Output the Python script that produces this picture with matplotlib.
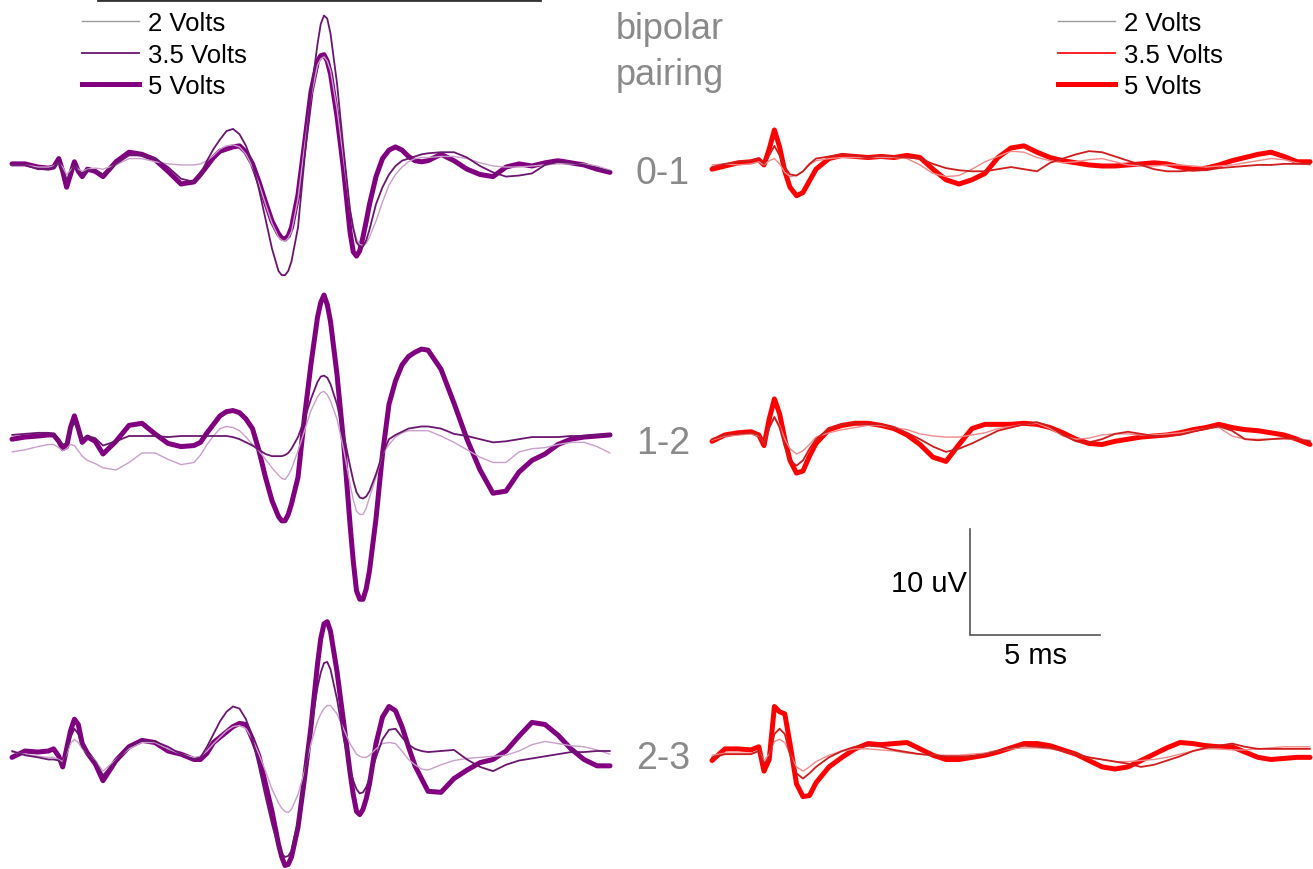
import numpy as np
import matplotlib
matplotlib.use("Agg")
import matplotlib.pyplot as plt
from matplotlib.lines import Line2D

plt.rcParams['font.family'] = ['Liberation Sans', 'DejaVu Sans']

# ---------------------------------------------------------------- sample times (ms)
t_left = np.array([0, 0.5, 1.0, 1.4, 1.6, 1.8, 1.95, 2.1, 2.25, 2.4, 2.55, 2.7, 2.9, 3.2, 3.5,
                   4.0, 4.5, 5.0, 5.5, 6.0, 6.5, 7.0, 7.25, 7.5, 7.75, 8.0, 8.25, 8.5, 8.75,
                   9.0, 9.25, 9.5, 9.75,
                   10.0, 10.25, 10.375, 10.5, 10.625, 10.75, 11.0, 11.25, 11.5, 11.75, 11.875,
                   12.0, 12.125, 12.25, 12.5, 12.75, 13.0, 13.125, 13.25, 13.375, 13.5, 13.625,
                   13.75,
                   14.0, 14.25, 14.5, 14.75, 15.0, 15.25, 15.5, 15.75, 16.0, 16.5, 17.0, 17.5,
                   18.0, 18.5, 19.0, 19.5, 20.0, 20.5, 21.0, 21.5, 22.0, 22.5, 23.0])
t_right = np.array([0, 0.5, 1.0, 1.5, 1.8, 2.0, 2.2, 2.4, 2.6, 2.8, 3.0, 3.25, 3.5, 3.75, 4.0,
                    4.5, 5.0, 5.5, 6.0, 6.5, 7.0, 7.5, 8.0, 8.5, 9.0, 9.5, 10.0, 10.5, 11.0,
                    11.5, 12.0, 12.5, 13.0, 13.5, 14.0, 14.5, 15.0, 15.5, 16.0, 16.5, 17.0,
                    17.5, 18.0, 18.5, 19.0, 19.5, 20.0, 20.5, 21.0, 21.5, 22.0, 22.5, 23.0])

# ---------------------------------------------------------------- left column (uV)
L01_2V = [0.1, 0.1, -0.1, -0.1, 0.0, 0.3, -0.1, -0.8, -0.4, 0.0, -0.3, -0.5, -0.3, -0.2, -0.3,
          0.1, 0.7, 0.7, 0.4, 0.2, 0.1, 0.1, 0.2, 0.5, 1.0, 1.6, 1.9, 2.0, 1.8, 1.1, -0.1, -1.7,
          -3.6,
          -5.4, -6.7, -7.0, -7.1, -6.8, -6.2, -3.1, 1.8, 6.5, 9.5, 10.1, 10.3, 9.9, 9.0, 5.4,
          0.7, -4.1, -5.7, -6.9, -7.4, -7.5, -7.3, -6.7,
          -5.2, -3.4, -1.8, -0.8, -0.1, 0.4, 0.7, 0.8, 0.8, 0.9, 0.9, 0.7, 0.3, 0.0,
          -0.1, -0.1, 0.0, 0.1, 0.2, 0.2, 0.2, 0.0, -0.4]
L01_35V = [0.1, 0.1, -0.3, -0.3, -0.1, 0.4, -0.5, -1.4, -0.7, 0.1, -0.5, -0.8, -0.4, -0.4, -0.8,
           0.2, 1.0, 1.0, 0.7, -0.1, -1.2, -1.5, -0.8, 0.5, 1.6, 2.5, 3.3, 3.5, 3.0, 1.9, 0.2,
           -2.2, -5.0,
           -7.8, -9.9, -10.3, -10.3, -9.9, -9.0, -5.8, 0.7, 6.8, 11.5, 13.4, 14.2, 13.9, 12.5,
           7.8, 1.6, -4.1, -5.9, -7.2, -7.6, -7.6, -7.0, -6.0,
           -3.6, -2.0, -0.8, 0.0, 0.5, 0.7, 0.9, 1.1, 1.2, 1.3, 1.3, 0.8, 0.0,
           -0.6, -1.0, -0.9, -0.7, 0.1, 0.4, 0.3, 0.1, -0.2, -0.5]
L01_5V = [0.2, 0.2, -0.1, -0.2, -0.1, 0.7, -0.5, -2.0, -0.8, 0.4, -0.5, -1.0, -0.3, -0.5, -1.0,
          0.4, 1.3, 1.1, 0.6, -0.5, -1.7, -1.5, -0.8, 0.0, 0.8, 1.4, 1.6, 1.8, 1.9, 1.3, 0.2,
          -1.5, -3.4,
          -5.2, -6.4, -6.8, -6.9, -6.6, -5.8, -2.7, 2.1, 7.0, 9.9, 10.4, 10.5, 9.9, 8.7, 4.7,
          -0.3, -6.2, -8.1, -8.5, -8.0, -6.7, -5.2, -3.6,
          -1.0, 0.7, 1.5, 1.8, 1.5, 0.9, 0.5, 0.4, 0.5, 1.1, 0.5, -0.3, -0.8,
          -1.0, -0.1, 0.2, 0.0, 0.3, 0.5, 0.3, 0.1, -0.3, -0.6]

L12_2V = [-1.5, -1.3, -1.0, -0.8, -0.8, -1.1, -1.4, -1.2, -0.8, -0.9, -1.4, -1.9, -2.3, -2.6,
          -3.0, -3.2, -2.5, -1.6, -1.6, -2.2, -2.7, -2.5, -1.8, -0.8, 0.0, 0.7, 0.9, 0.8, 0.5,
          -0.1, -0.8, -1.4, -2.2,
          -3.0, -3.7, -4.0, -4.1, -3.7, -3.1, -1.4, 0.5, 2.4, 3.7, 4.1, 4.2, 3.9, 3.3, 1.6,
          -1.2, -4.5, -6.0, -7.1, -7.4, -7.4, -6.8, -5.8,
          -3.9, -1.7, -0.8, -0.1, 0.3, 0.5, 0.5, 0.5, 0.5, 0.0,
          -0.6, -1.3, -2.0, -2.5, -2.5, -1.5, -1.2, -1.1, -0.8, -0.6, -0.6, -1.0, -1.6]
L12_35V = [0.1, 0.2, 0.3, 0.3, 0.2, -0.3, -0.8, -0.7, 0.7, 1.3, 0.5, -0.3, 0.0, -0.2, -0.9,
           -0.5, 0.0, 0.0, 0.0, -0.1, 0.0, 0.0, 0.0, 0.0, 0.0, 0.0, 0.0, -0.1, -0.3, -0.6, -0.9,
           -1.3, -1.7,
           -1.9, -1.9, -1.9, -1.8, -1.6, -1.2, -0.1, 1.6, 3.5, 5.1, 5.6, 5.7, 5.5, 4.9, 3.0,
           0.2, -2.8, -4.2, -5.3, -5.8, -5.9, -5.7, -5.2,
           -3.6, -1.7, -0.3, 0.1, 0.4, 0.7, 0.8, 0.9, 0.9, 0.7, 0.2, 0.0,
           -0.3, -0.6, -0.5, -0.3, -0.1, -0.1, -0.1, 0.0, 0.0, 0.1, 0.1]
L12_5V = [-0.3, -0.1, 0.0, 0.1, 0.1, -0.5, -1.2, -1.0, 0.8, 1.9, 0.7, -0.6, -0.1, -0.5, -1.7,
          -0.5, 1.0, 1.2, 0.2, -0.7, -1.0, -0.9, -0.6, 0.3, 1.1, 1.9, 2.3, 2.4, 2.2, 1.6, 0.7,
          -1.4, -3.9,
          -6.1, -7.6, -8.0, -8.0, -7.4, -6.4, -3.9, 1.8, 6.8, 11.2, 12.6, 13.3, 12.4, 10.8,
          5.8, -0.5, -8.3, -11.8, -14.6, -15.4, -15.4, -14.4, -12.7,
          -7.8, -1.7, 3.0, 5.2, 6.7, 7.5, 7.9, 8.2, 8.1, 6.3, 3.1, -0.3,
          -3.2, -5.4, -5.2, -3.4, -2.3, -1.7, -0.8, -0.3, -0.1, 0.0, 0.1]

L23_2V = [-0.1, -0.3, -0.5, -0.6, -0.6, -0.8, -1.0, -0.3, 0.7, 1.1, 0.8, 0.2, -0.3, -0.9, -1.9,
          -0.8, 0.2, 0.8, 0.8, 0.2, -0.3, -0.6, -0.5, 0.0, 0.7, 1.3, 1.9, 2.3, 2.4, 2.1, 1.1,
          -0.3, -1.9,
          -3.6, -4.9, -5.4, -5.7, -5.8, -5.5, -4.1, -1.9, 0.7, 2.8, 3.5, 4.0, 4.3, 4.3, 3.5,
          2.1, 0.7, 0.2, -0.3, -0.5, -0.6, -0.6, -0.4,
          0.2, 0.7, 0.8, 0.7, 0.0, -0.8, -1.3, -1.7, -1.8, -1.3, -0.9, -0.7,
          -0.6, -0.5, -0.4, 0.0, 0.6, 0.9, 0.7, 0.5, 0.4, 0.1, -0.3]
L23_35V = [0.0, -0.4, -0.6, -0.8, -0.8, -0.9, -1.3, 0.0, 1.3, 2.1, 1.6, 0.4, -0.3, -1.0, -2.3,
           -0.9, 0.4, 1.0, 0.9, 0.4, -0.3, -0.8, -0.6, 0.4, 1.6, 2.8, 3.7, 4.2, 4.0, 3.0, 1.1,
           -1.5, -4.3,
           -6.9, -9.1, -9.7, -10.0, -9.9, -9.4, -6.6, -2.5, 2.1, 6.0, 7.4, 8.3, 8.4, 7.7, 4.9,
           1.3, -1.7, -2.8, -3.6, -4.0, -3.9, -3.4, -2.6,
           -0.6, 1.1, 2.0, 2.1, 1.3, 0.6, 0.2, 0.0, -0.1, 0.0, 0.1, -0.8,
           -1.5, -1.9, -1.3, -0.9, -0.7, -0.5, -0.3, -0.1, -0.1, 0.0, 0.0]
L23_5V = [-0.6, 0.0, -0.1, 0.0, 0.2, -0.5, -1.5, 0.2, 1.9, 3.0, 2.5, 0.7, -0.2, -1.2, -2.8,
          -0.9, 0.4, 1.0, 0.8, 0.0, -0.3, -0.8, -0.8, -0.2, 0.8, 1.3, 1.8, 2.3, 2.6, 2.5, 1.1,
          -0.5, -3.1,
          -5.7, -8.8, -10.0, -10.8, -10.7, -10.0, -7.2, -2.6, 2.3, 8.2, 10.6, 12.0, 12.2, 11.3,
          7.5, 2.8, -2.0, -4.1, -5.7, -6.0, -5.5, -4.5, -3.1,
          0.7, 3.2, 4.2, 3.8, 2.3, 0.4, -1.4, -2.6, -3.8, -3.9, -2.6, -1.8,
          -1.1, -0.8, 0.0, 1.4, 2.7, 2.5, 1.5, 0.2, -0.8, -1.4, -1.4]

# ---------------------------------------------------------------- right column (uV)
R01_2V = [0.1, 0.2, 0.1, 0.2, 0.4, 0.1, 0.5, 0.7, 0.2, -0.6, -1.0, -0.9, -0.5, 0.1, 0.5, 0.7,
          0.8, 0.8, 0.8, 0.8, 0.8, 0.7, 0.1, -0.7, -1.0, -0.9, -0.3, 0.4, 0.9, 1.4, 1.3, 0.8,
          0.5, 0.3, 0.4, 0.6, 0.7, 0.4, 0.1, 0.0, 0.0, 0.1, 0.1, 0.0, -0.1, 0.0, 0.1, 0.3, 0.5,
          0.7, 0.6, 0.3, 0.1]
R01_35V = [-0.1, 0.2, 0.4, 0.5, 0.7, 0.2, 1.0, 1.9, 1.0, -0.1, -0.8, -0.9, -0.5, 0.2, 0.7, 0.9,
           1.1, 1.0, 0.8, 1.0, 0.9, 0.8, 0.7, 0.2, -0.2, -0.4, -0.5, -0.5, -0.3, -0.1, -0.3,
           -0.5, 0.3, 0.7, 1.1, 1.4, 1.3, 0.9, 0.5, 0.1, -0.3, -0.5, -0.5, -0.4, -0.4, -0.2,
           -0.1, 0.0, 0.1, 0.1, 0.2, 0.2, 0.2]
R01_5V = [-0.3, 0.0, 0.3, 0.4, 0.6, 0.1, 1.6, 3.4, 1.8, -0.5, -2.0, -2.8, -2.5, -1.4, -0.3, 0.7,
          1.0, 0.9, 0.8, 0.9, 0.8, 1.0, 0.8, -0.3, -1.3, -1.7, -1.3, -0.7, 0.8, 1.7, 1.9, 1.3,
          0.8, 0.5, 0.3, 0.1, 0.0, 0.0, 0.1, 0.2, 0.3, 0.2, -0.1, -0.3, -0.2, 0.1, 0.5, 0.8,
          1.1, 1.3, 0.9, 0.4, 0.4]

R12_2V = [-0.4, 0.0, 0.1, 0.2, 0.0, -0.7, 0.7, 1.7, 1.0, -0.3, -1.2, -1.7, -1.4, -0.8, -0.1,
          0.3, 0.6, 0.8, 1.0, 1.0, 0.8, 0.6, 0.2, 0.0, -0.1, -0.1, 0.1, 0.3, 0.7, 0.9, 1.1, 1.2,
          0.7, 0.0, -0.3, -0.2, 0.1, 0.2, 0.2, 0.1, 0.1, 0.2, 0.3, 0.5, 0.7, 0.8, 0.0, -0.3,
          -0.3, -0.3, -0.3, -0.3, -0.4]
R12_35V = [-0.3, 0.1, 0.2, 0.3, 0.1, -0.8, 0.8, 1.8, 0.8, -1.0, -2.3, -2.8, -2.3, -1.2, -0.3,
           0.7, 1.1, 1.2, 1.1, 1.1, 0.8, 0.3, -0.3, -1.0, -1.5, -1.2, -0.7, -0.1, 0.5, 0.8, 1.1,
           1.3, 0.9, 0.1, -0.5, -0.6, -0.3, 0.2, 0.4, 0.2, 0.0, 0.0, 0.1, 0.4, 0.7, 0.9, 0.5,
           -0.3, -0.4, -0.3, -0.2, -0.3, -0.5]
R12_5V = [-0.5, 0.1, 0.3, 0.4, 0.1, -0.9, 1.6, 3.5, 2.1, -0.3, -2.3, -3.5, -3.3, -1.9, -0.7,
          0.6, 1.0, 1.2, 1.2, 1.0, 0.7, 0.1, -0.8, -2.0, -2.4, -0.8, 0.7, 1.1, 1.1, 1.1, 1.2,
          1.1, 0.8, 0.3, -0.3, -0.7, -0.8, -0.5, -0.3, -0.1, 0.0, 0.1, 0.3, 0.6, 0.8, 1.1, 0.8,
          0.6, 0.5, 0.3, 0.1, -0.3, -0.8]

R23_2V = [-0.4, -0.2, -0.2, -0.2, 0.0, -0.9, -0.3, 0.9, 1.1, 0.8, -0.3, -1.5, -1.9, -1.5, -1.0,
          -0.4, 0.0, 0.2, 0.2, 0.1, 0.0, -0.2, -0.3, -0.4, -0.4, -0.4, -0.3, -0.2, 0.0, 0.2,
          0.3, 0.3, 0.2, 0.0, -0.3, -0.6, -0.8, -1.0, -1.0, -0.9, -0.8, -0.6, -0.3, 0.0, 0.2,
          0.2, 0.1, 0.1, 0.2, 0.3, 0.4, 0.4, 0.4]
R23_35V = [-0.6, -0.3, -0.3, -0.3, 0.0, -1.2, -0.6, 1.6, 2.1, 1.6, -0.3, -2.1, -2.6, -2.1, -1.5,
           -0.6, 0.0, 0.4, 0.5, 0.4, 0.1, -0.1, -0.3, -0.4, -0.5, -0.5, -0.5, -0.3, 0.0, 0.3,
           0.5, 0.4, 0.3, 0.0, -0.3, -0.6, -0.8, -1.0, -1.2, -1.5, -1.3, -0.9, -0.5, 0.0, 0.3,
           0.5, 0.7, 0.4, 0.2, 0.2, 0.2, 0.2, 0.2]
R23_5V = [-0.9, 0.2, 0.2, 0.1, 0.4, -1.9, -0.8, 4.2, 3.7, 3.5, 0.7, -3.1, -4.3, -4.2, -3.0, -1.5,
          -0.6, 0.2, 0.7, 0.6, 0.7, 0.8, 0.2, -0.4, -0.8, -0.8, -0.6, -0.4, -0.1, 0.3, 0.7, 0.7,
          0.5, 0.1, -0.3, -0.9, -1.5, -1.7, -1.5, -0.9, -0.3, 0.3, 0.8, 0.7, 0.5, 0.4, 0.4,
          -0.1, -0.6, -0.8, -0.7, -0.6, -0.6]

pairings = ["0-1", "1-2", "2-3"]
voltages = ["2 Volts", "3.5 Volts", "5 Volts"]

# ---------------------------------------------------------------- layout
W, H = 1313, 870
PX_PER_MS = 26.0
PX_PER_UV = 10.6
row_base_px = [167, 437, 752]                      # baseline of each pairing row
row_offset = [(H - b) / PX_PER_UV for b in row_base_px]

left_styles = [dict(color="#c9a0c9", lw=1.0, zorder=3),
               dict(color="#6a1670", lw=1.3, zorder=4),
               dict(color="#800080", lw=3.6, zorder=2)]
right_styles = [dict(color="#f08a8a", lw=1.0, zorder=3),
                dict(color="#d01c1c", lw=1.3, zorder=4),
                dict(color="#ff0000", lw=3.6, zorder=2)]

fig = plt.figure(figsize=(W / 100, H / 100), dpi=100)
fig.patch.set_facecolor("white")

split = 656
axL = fig.add_axes([0, 0, split / W, 1])
axR = fig.add_axes([split / W, 0, (W - split) / W, 1])
axL.set_xlim((0 - 12) / PX_PER_MS, (split - 12) / PX_PER_MS)
axR.set_xlim((split - 712) / PX_PER_MS, (W - 712) / PX_PER_MS)
for ax in (axL, axR):
    ax.set_ylim(0, H / PX_PER_UV)
    ax.axis("off")

left_rows = [(L01_2V, L01_35V, L01_5V), (L12_2V, L12_35V, L12_5V), (L23_2V, L23_35V, L23_5V)]
right_rows = [(R01_2V, R01_35V, R01_5V), (R12_2V, R12_35V, R12_5V), (R23_2V, R23_35V, R23_5V)]

for off, traces in zip(row_offset, left_rows):
    for vals, st in zip(traces, left_styles):
        axL.plot(t_left, np.asarray(vals) + off, solid_joinstyle="round",
                 solid_capstyle="round", clip_on=False, **st)
for off, traces in zip(row_offset, right_rows):
    for vals, st in zip(traces, right_styles):
        axR.plot(t_right, np.asarray(vals) + off, solid_joinstyle="round",
                 solid_capstyle="round", clip_on=False, **st)

# ---------------------------------------------------------------- legends
leg_kw = dict(loc="upper left", frameon=False, fontsize=18.5, handlelength=2.2,
              handletextpad=0.37, labelspacing=0.3, borderpad=0, borderaxespad=0,
              bbox_transform=fig.transFigure)
left_handles = [Line2D([], [], color="#9c9c9c", lw=1.0),
                Line2D([], [], color="#6a1670", lw=1.3),
                Line2D([], [], color="#800080", lw=3.6)]
right_handles = [Line2D([], [], color="#9c9c9c", lw=1.0),
                 Line2D([], [], color="#ff1010", lw=1.3),
                 Line2D([], [], color="#ff0000", lw=3.6)]
axL.legend(left_handles, voltages, bbox_to_anchor=(82 / W, 1 - 12 / H), **leg_kw)
axR.legend(right_handles, voltages, bbox_to_anchor=(1058 / W, 1 - 12 / H), **leg_kw)

# ---------------------------------------------------------------- labels
gray = "#8a8a8a"
fig.text(670 / W, 1 - 39 / H, "bipolar", ha="center", va="baseline", fontsize=26, color=gray)
fig.text(670 / W, 1 - 85 / H, "pairing", ha="center", va="baseline", fontsize=26, color=gray)
for name, b in zip(pairings, row_base_px):
    fig.text(663 / W, 1 - (b + 17) / H, name, ha="center", va="baseline",
             fontsize=27, color=gray)

# top rule
fig.add_artist(Line2D([98 / W, 540 / W], [1 - 1 / H, 1 - 1 / H], color="#333333", lw=2,
                      transform=fig.transFigure))

# ---------------------------------------------------------------- scale bar
sb_t = (970 - 712) / PX_PER_MS
sb_y = (H - 636) / PX_PER_UV
sb_len_ms, sb_len_uv = 5, 10
axR.plot([sb_t, sb_t, sb_t + sb_len_ms], [sb_y + sb_len_uv, sb_y, sb_y],
         color="#555555", lw=1.2, solid_joinstyle="miter")
axR.text(sb_t - 0.12, sb_y + 0.49 * sb_len_uv, "10 uV", ha="right", va="center",
         fontsize=21, color="black")
axR.text(sb_t + sb_len_ms / 2, sb_y - 0.55, "5 ms", ha="center", va="top",
         fontsize=21, color="black")

fig.savefig("out.png", dpi=100, facecolor="white")
